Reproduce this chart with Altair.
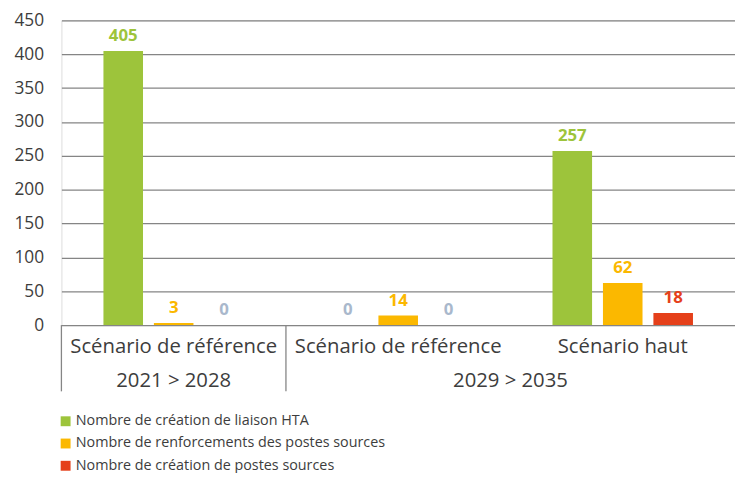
import altair as alt
import pandas as pd

# ---- data ----
category_keys = ["c1", "c2", "c3"]
category_labels = ["Scénario de référence", "Scénario de référence", "Scénario haut"]
series_names = [
    "Nombre de création de liaison HTA",
    "Nombre de renforcements des postes sources",
    "Nombre de création de postes sources",
]
liaison_hta = [405, 0, 257]
renforcements_ps = [3, 14, 62]
creation_ps = [0, 0, 18]
series_values = [liaison_hta, renforcements_ps, creation_ps]

period_labels = ["2021 > 2028", "2029 > 2035"]
period_first_cat = [0, 1]
period_last_cat = [0, 2]

colors = ["#9dc43b", "#fbb800", "#e5401a"]
zero_color = "#a9b8cc"
text_color = "#3d3d3d"
grid_color = "#858585"
FONT = "Open Sans"

W, H = 681, 308

rows = []
for s, vals in zip(series_names, series_values):
    for k, v in zip(category_keys, vals):
        rows.append({"key": k, "series": s, "value": v})
df = pd.DataFrame(rows)

label_expr = " : ".join(
    f"datum.value == '{k}' ? '{l}'" for k, l in zip(category_keys, category_labels)
) + " : ''"

x_enc = alt.X(
    "key:N",
    scale=alt.Scale(domain=category_keys, paddingInner=0, paddingOuter=0),
    axis=alt.Axis(
        title=None, labelExpr=label_expr, labelFontSize=20.5, labelColor=text_color,
        labelFont=FONT, ticks=False, domain=False, labelPadding=12, labelAngle=0,
        labelLimit=400,
    ),
)
xoff_enc = alt.XOffset(
    "series:N",
    scale=alt.Scale(domain=series_names, paddingInner=0.2157, paddingOuter=0.833),
)
y_enc = alt.Y(
    "value:Q",
    scale=alt.Scale(domain=[0, 450], nice=False),
    axis=alt.Axis(
        title=None, values=list(range(0, 451, 50)), grid=True, gridColor=grid_color,
        gridWidth=1.3, ticks=False, domain=False, labelPadding=18, labelFontSize=17.5,
        labelColor=text_color, labelFont=FONT, labelOverlap=False, tickCount=10,
    ),
)
color_scale = alt.Scale(domain=series_names, range=colors)

bars = alt.Chart(df).mark_bar().encode(
    x=x_enc,
    xOffset=xoff_enc,
    y=y_enc,
    color=alt.Color(
        "series:N",
        scale=color_scale,
        sort=series_names,
        legend=alt.Legend(
            orient="none", legendX=-3, legendY=398, title=None, symbolType="square",
            symbolSize=100, symbolStrokeWidth=0, labelFontSize=14.5, labelColor=text_color,
            labelFont=FONT, rowPadding=7.5, labelOffset=3, padding=0, labelLimit=600,
            direction="vertical",
        ),
    ),
)

labels = alt.Chart(df).mark_text(
    baseline="bottom", dy=-6, fontWeight="bold", fontSize=17, font=FONT
).encode(
    x=x_enc,
    xOffset=xoff_enc,
    y=y_enc,
    text="value:Q",
    color=alt.condition(
        "datum.value == 0",
        alt.value(zero_color),
        alt.Color("series:N", scale=color_scale, legend=None),
    ),
)

main = alt.layer(bars, labels)

# ---- second-level axis (periods) ----
n = len(category_keys)
sep_df = pd.DataFrame({"pos": [float(f) for f in period_first_cat]})
period_df = pd.DataFrame({
    "label": period_labels,
    "mid": [(f + l + 1) / 2 for f, l in zip(period_first_cat, period_last_cat)],
})
xq = alt.Scale(domain=[0, n], nice=False, zero=False)

seps = alt.Chart(sep_df).mark_rule(color=grid_color, strokeWidth=1.3).encode(
    x=alt.X("pos:Q", scale=xq, axis=None),
    y=alt.value(H),
    y2=alt.value(H + 67),
)
ptext = alt.Chart(period_df).mark_text(
    fontSize=20.5, font=FONT, color=text_color, baseline="middle"
).encode(
    x=alt.X("mid:Q", scale=xq, axis=None),
    y=alt.value(H + 57),
    text="label:N",
)
annot = alt.layer(seps, ptext)

chart = (
    alt.layer(main, annot)
    .resolve_scale(x="independent")
    .properties(
        width=W, height=H,
        autosize=alt.AutoSizeParams(type="none"),
        padding={"left": 54, "top": 10, "right": 0, "bottom": 147},
    )
    .configure_view(stroke=None)
    .configure(font=FONT)
)

chart.save("out.html", embed_options={"renderer": "svg", "actions": False})
